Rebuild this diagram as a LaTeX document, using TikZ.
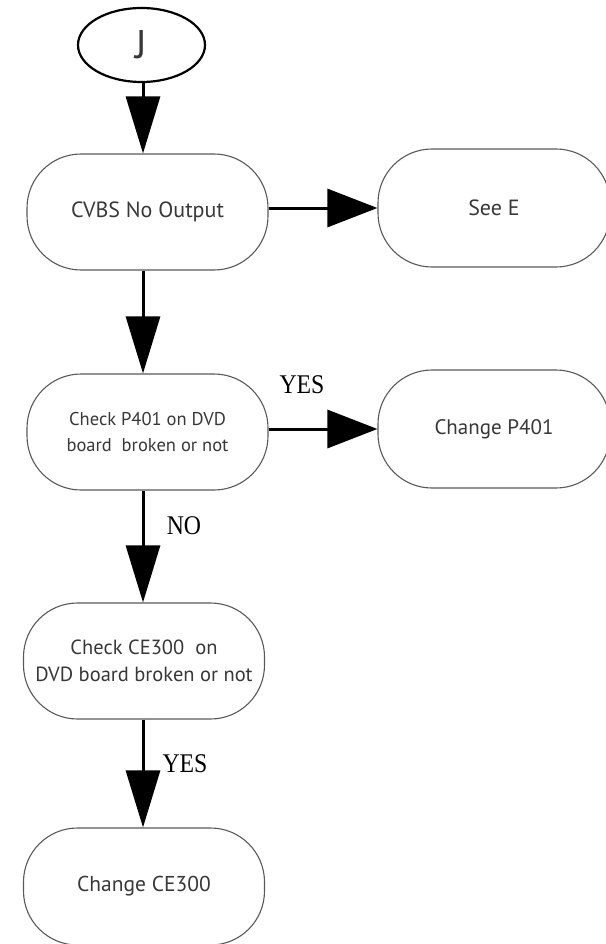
\documentclass[tikz,border=0pt]{standalone}
\usepackage{fontspec}
\usetikzlibrary{arrows.meta,shapes.geometric}
\newfontfamily\boxfont{PT Sans}
\newfontfamily\answerfont{Liberation Serif}
\definecolor{boxline}{gray}{0.35}
\definecolor{boxtext}{gray}{0.22}

\begin{document}
\begin{tikzpicture}[x=1pt,y=-1pt,line width=3pt,
	stadium/.style={draw=boxline,line width=1.1pt,rounded corners=54pt,minimum width=241pt,minimum height=116pt,
		inner sep=0pt,align=center,text=boxtext,font=\boxfont\fontsize{#1}{26.5}\selectfont},
	stadium/.default=21,
	answer/.style={inner sep=0pt,xscale=0.88,font=\answerfont\fontsize{27}{27}\selectfont},
	vtip/.style={-{Triangle[length=57pt,width=34pt]}},
	htip/.style={-{Triangle[length=50pt,width=38pt]}}]
\useasboundingbox (0,0) rectangle (605,944);

\coordinate (spine) at (143,0);

\node[ellipse,draw,line width=2.2pt,minimum width=127pt,minimum height=74pt,inner sep=0pt,
	text=boxtext,font=\boxfont\fontsize{40}{40}\selectfont] (J) at (141.5,45) {J};

\node[stadium=22] (cvbs) at (147.5,212) {CVBS No Output};
\node[stadium=22,minimum width=232pt,minimum height=118pt] (seeE) at (494,208) {See E};
\node[stadium=18.5] (p401) at (147.5,432) {Check P401 on DVD\\board\ \ broken or not};
\node[stadium,minimum width=232pt,minimum height=118pt] (chgP) at (494,429) {Change P401};
\node[stadium=20.5] (ce300) at (144,661) {Check CE300\ \ on\\DVD board broken or not};
\node[stadium=21.5,minimum height=117pt] (chgCE) at (144,886.5) {Change CE300};

\node[answer] (yesA) at (302,385) {YES};
\node[answer] (noA)  at (184,526) {NO};
\node[answer] (yesB) at (185,764) {YES};

\draw[vtip] (J.south -| spine) -- (cvbs.north -| spine);
\draw[htip] (cvbs.east |- seeE.west) -- (seeE.west);
\draw[vtip] (cvbs.south -| spine) -- (p401.north -| spine);
\draw[htip] (p401.east |- chgP.west) -- (chgP.west);
\draw[vtip] (p401.south -| spine) -- (ce300.north -| spine);
\draw[vtip] (ce300.south -| spine) -- (chgCE.north -| spine);
\end{tikzpicture}
\end{document}
